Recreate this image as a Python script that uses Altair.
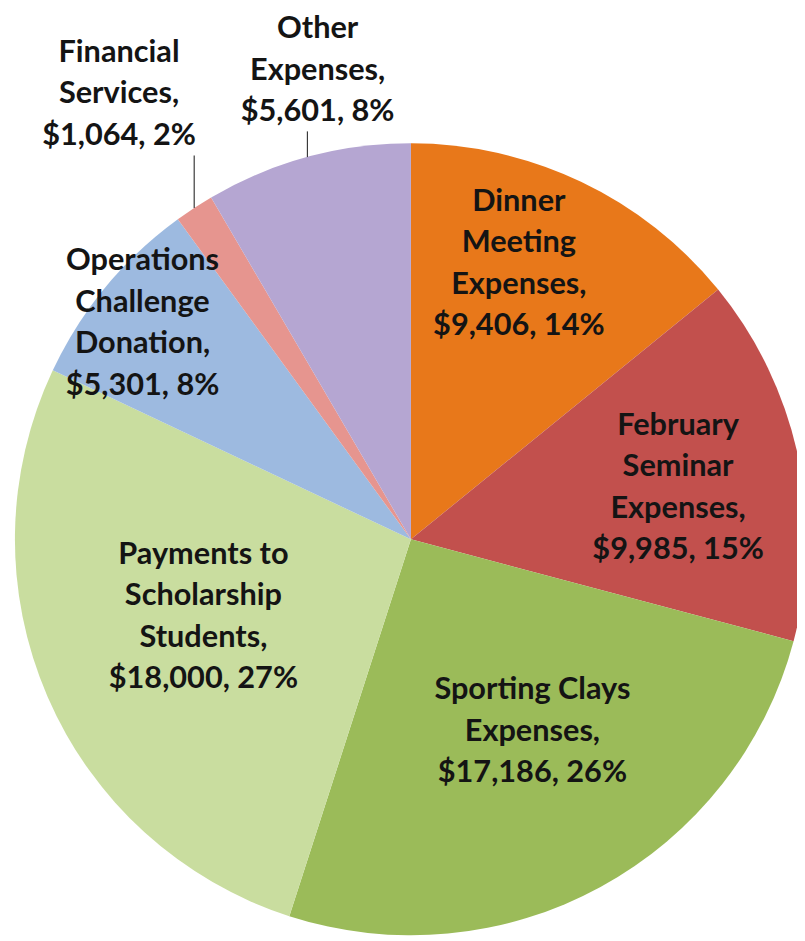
import altair as alt

# ---- data ----
categories = [
    "Dinner Meeting Expenses",
    "February Seminar Expenses",
    "Sporting Clays Expenses",
    "Payments to Scholarship Students",
    "Operations Challenge Donation",
    "Financial Services",
    "Other Expenses",
]
amounts = [9406, 9985, 17186, 18000, 5301, 1064, 5601]
percents = [14, 15, 26, 27, 8, 2, 8]
label_lines = [
    ["Dinner", "Meeting", "Expenses,"],
    ["February", "Seminar", "Expenses,"],
    ["Sporting Clays", "Expenses,"],
    ["Payments to", "Scholarship", "Students,"],
    ["Operations", "Challenge", "Donation,"],
    ["Financial", "Services,"],
    ["Other", "Expenses,"],
]

# ---- styling ----
colors = ["#E8781A", "#C2504D", "#9BBB59", "#C9DD9F", "#9DBAE0", "#E6958F", "#B5A6D2"]
CX, CY, R = 407, 532, 400
LH = 42
# label radius and pixel nudges (style, per slice in order)
lab_r = [298, 275, 225, 223, 348, 537, 483]
lab_dx = [-19, 1, 15, -5, -3, -1, 32]
lab_dy = [-9, 6, -3, -10, 4, 0, -7]
leader_len = [0, 0, 0, 0, 0, 53, 26]

records = []
for i, (c, a, p, ll) in enumerate(zip(categories, amounts, percents, label_lines)):
    records.append({
        "idx": i,
        "category": c,
        "amount": a,
        "label": ll + [f"${a:,}, {p}%"],
    })
data = alt.Data(values=records)

def arr(v):
    return "[" + ",".join(str(x) for x in v) + "]"

base = alt.Chart(data)

pie = base.mark_arc(radius=R, stroke=None).encode(
    theta=alt.Theta("amount:Q", stack=True),
    order=alt.Order("idx:O"),
    color=alt.Color("category:N", scale=alt.Scale(domain=categories, range=colors), legend=None),
    x=alt.value(CX),
    y=alt.value(CY),
)

geo = base.transform_joinaggregate(
    total="sum(amount)"
).transform_window(
    cum="sum(amount)", sort=[alt.SortField("idx")], frame=[None, 0]
).transform_calculate(
    mid="(datum.cum - datum.amount/2) / datum.total * 2 * PI",
    lr=f"{arr(lab_r)}[datum.idx]",
    ldx=f"{arr(lab_dx)}[datum.idx]",
    ldy=f"{arr(lab_dy)}[datum.idx]",
    llen=f"{arr(leader_len)}[datum.idx]",
    nlines="length(datum.label)",
).transform_calculate(
    lx=f"{CX} + datum.lr * sin(datum.mid) + datum.ldx",
    ly=f"{CY} - datum.lr * cos(datum.mid) + datum.ldy - (datum.nlines - 1) * {LH} / 2",
    ex=f"{CX} + {R} * sin(datum.mid)",
    ey=f"{CY} - {R} * cos(datum.mid)",
).transform_calculate(
    ey2="datum.ey - datum.llen",
)

labels = geo.mark_text(
    font="Lato", fontSize=31, fontWeight="bold", lineHeight=LH,
    align="center", baseline="middle", color="#141414",
).encode(
    x=alt.X("lx:Q", scale=None, axis=None),
    y=alt.Y("ly:Q", scale=None, axis=None),
    text=alt.Text("label:N"),
)

leaders = geo.transform_filter("datum.llen > 0").mark_rule(
    color="#3a3a3a", strokeWidth=1.2
).encode(
    x=alt.X("ex:Q", scale=None, axis=None),
    y=alt.Y("ey:Q", scale=None, axis=None),
    y2="ey2:Q",
)

chart = alt.layer(pie, leaders, labels).properties(
    width=797, height=933, padding=0, autosize="none", background="white"
).configure_view(stroke=None)

chart.save("out.html", embed_options={"renderer": "svg", "actions": False})
